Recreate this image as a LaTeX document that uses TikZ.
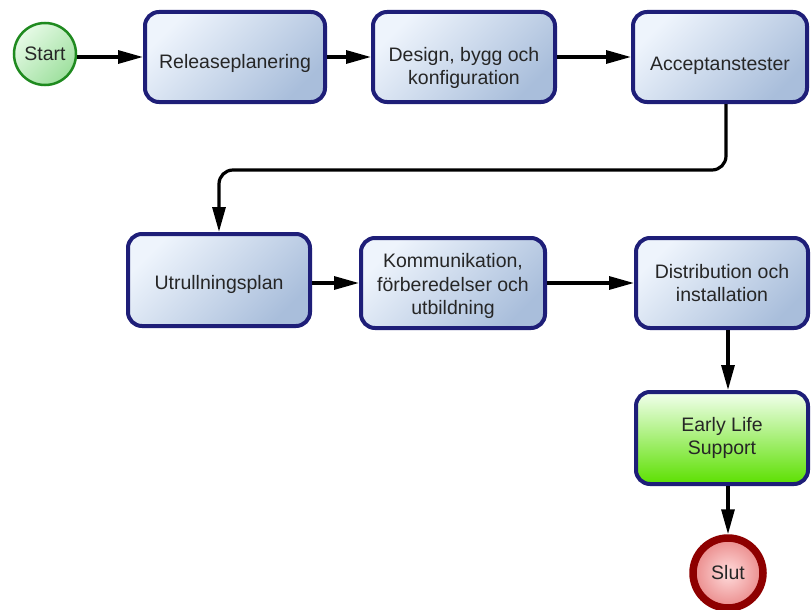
\documentclass[tikz,border=0pt]{standalone}
\usepackage{fontspec}
\setmainfont{Liberation Sans}
\usetikzlibrary{arrows.meta,calc}
\begin{document}
\begin{tikzpicture}[x=1pt,y=-1pt,
  every node/.style={font=\fontsize{19.5}{23.5}\selectfont, text=black!85, align=center},
  stepbox/.style={draw=navyline, line width=4pt, rounded corners=14pt,
    top color=boxlight, bottom color=boxdark, shading angle=45,
    inner sep=2pt},
  greenbox/.style={stepbox, top color=greenlight, bottom color=greendark},
  startnode/.style={circle, draw=startline, line width=2.5pt, minimum size=62pt,
    inner sep=0pt, top color=startlight, bottom color=startdark, shading angle=45},
  endnode/.style={circle, draw=endline, line width=7.5pt, minimum size=70pt,
    inner sep=0pt, inner color=endlight, outer color=enddark},
  lowtext/.style 2 args={label={[yshift=-#1]center:{#2}}},
  flow/.style={line width=3.2pt, -{Triangle[length=25pt,width=13pt]}}
]
\definecolor{navyline}{HTML}{1E1E78}
\definecolor{boxlight}{HTML}{EEF4FC}
\definecolor{boxdark}{HTML}{A9BEDB}
\definecolor{greenlight}{HTML}{F2FFEE}
\definecolor{greendark}{HTML}{5CE000}
\definecolor{startline}{HTML}{1F8A1F}
\definecolor{startlight}{HTML}{E6FAE6}
\definecolor{startdark}{HTML}{9EE09E}
\definecolor{endline}{HTML}{8E0000}
\definecolor{endlight}{HTML}{FFDCDC}
\definecolor{enddark}{HTML}{EA8A8A}

\useasboundingbox (0,0) rectangle (811,610);
\fill[white] (0,0) rectangle (811,610);

\begin{scope}
\clip (0,0) rectangle (811,610);

% first row
\node[startnode] (start) at (45,54) {Start};
\node[stepbox, minimum width=180pt, minimum height=90pt,
  lowtext={6pt}{Releaseplanering}] (release) at (235,57) {};
\node[stepbox, minimum width=182pt, minimum height=90pt,
  lowtext={11pt}{Design, bygg och\\konfiguration}] (design) at (464,57) {};
\node[stepbox, minimum width=174pt, minimum height=90pt,
  lowtext={9pt}{Acceptanstester}] (accept) at (720,57) {};

% second row
\node[stepbox, minimum width=182pt, minimum height=92pt,
  lowtext={4pt}{Utrullningsplan}] (utrull) at (219,280) {};
\node[stepbox, minimum width=184pt, minimum height=90pt,
  lowtext={3pt}{Kommunikation,\\förberedelser och\\utbildning}] (komm) at (453,283) {};
\node[stepbox, minimum width=172pt, minimum height=90pt] (distr) at (722,283) {Distribution och\\installation};

% closing steps
\node[greenbox, minimum width=172pt, minimum height=92pt] (early) at (722,438) {Early Life\\Support};
\node[endnode] (slut) at (728,573) {Slut};

% connectors
\draw[flow] (start.east |- release.west) -- (release.west);
\draw[flow] (release) -- (design);
\draw[flow] (design) -- (accept);
\draw[flow, rounded corners=14pt] ($(accept.south)+(6,0)$) -- ++(0,66) -| (utrull.north);
\draw[flow] (utrull.east |- komm.west) -- (komm.west);
\draw[flow] (komm) -- (distr);
\draw[flow] ($(distr.south)+(6,0)$) -- ($(early.north)+(6,0)$);
\draw[flow] ($(early.south)+(6,0)$) -- (slut.north);
\end{scope}
\end{tikzpicture}
\end{document}
